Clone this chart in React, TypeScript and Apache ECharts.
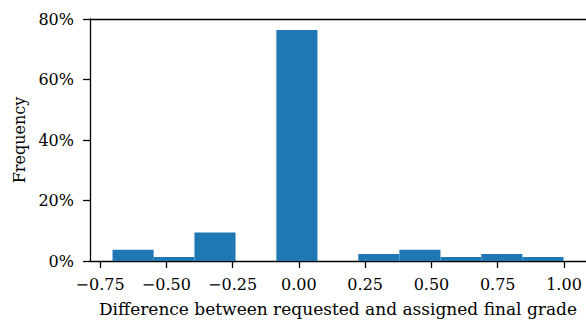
import React, { useEffect, useRef } from "react";
import * as echarts from "echarts";

const binEdges = [-0.703, -0.548, -0.394, -0.239, -0.085, 0.07, 0.224, 0.379, 0.534, 0.688, 0.843, 0.998];
const frequencies = [3.7, 1.3, 9.4, 0, 76.4, 0, 2.3, 3.7, 1.3, 2.3, 1.3];
const xTicks = [-0.75, -0.5, -0.25, 0, 0.25, 0.5, 0.75, 1.0];
const yTicks = [0, 20, 40, 60, 80];
const xLabel = "Difference between requested and assigned final grade";
const yLabel = "Frequency";

const FONT = "DejaVu Serif";

export default function App() {
  const ref = useRef<HTMLDivElement>(null);
  useEffect(() => {
    if (!ref.current) return;
    const chart = echarts.init(ref.current, null, { renderer: "svg" });
    const data = frequencies.map((v, i) => [binEdges[i], binEdges[i + 1], v]);
    const fmt = (v: number) => v.toFixed(2).replace("-", "\u2212");
    chart.setOption({
      animation: false,
      grid: { left: 90, right: 0, top: 19, bottom: 59, containLabel: false, outerBoundsMode: "none" },
      xAxis: [
        {
          type: "value",
          min: -0.788,
          max: 1.083,
          name: xLabel,
          nameLocation: "middle",
          nameGap: 39,
          nameMoveOverlap: false,
          nameTextStyle: { fontFamily: FONT, fontSize: 17, color: "#000" },
          axisLine: { show: true, onZero: false, lineStyle: { color: "#000", width: 1.3 } },
          axisTick: { show: true, length: 7, lineStyle: { color: "#000", width: 1.3 }, customValues: xTicks },
          axisLabel: {
            fontFamily: FONT,
            fontSize: 16,
            color: "#000",
            margin: 8,
            padding: [7, 0, 0, 0],
            customValues: xTicks,
            formatter: fmt,
          },
          splitLine: { show: false },
        },
        {
          type: "value",
          position: "top",
          min: -0.788,
          max: 1.083,
          axisLine: { show: true, onZero: false, lineStyle: { color: "#000", width: 1.3 } },
          axisTick: { show: false },
          axisLabel: { show: false },
          splitLine: { show: false },
        },
      ],
      yAxis: {
        type: "value",
        min: 0,
        max: 80,
        interval: 20,
        name: yLabel,
        nameLocation: "middle",
        nameGap: 63,
        nameMoveOverlap: false,
        nameTextStyle: { fontFamily: FONT, fontSize: 16, color: "#000" },
        axisLine: { show: true, onZero: false, lineStyle: { color: "#000", width: 1.3 } },
        axisTick: { show: true, length: 7, lineStyle: { color: "#000", width: 1.3 }, customValues: yTicks },
        axisLabel: { fontFamily: FONT, fontSize: 16, color: "#000", margin: 16, formatter: (v: number) => v + "%" },
        splitLine: { show: false },
      },
      series: [
        {
          type: "custom",
          xAxisIndex: 0,
          yAxisIndex: 0,
          data,
          encode: { x: [0, 1], y: 2 },
          renderItem: (params: any, api: any) => {
            const p0 = api.coord([api.value(0), api.value(2)]);
            const p1 = api.coord([api.value(1), 0]);
            return {
              type: "rect",
              shape: { x: p0[0], y: p0[1], width: p1[0] - p0[0], height: p1[1] - p0[1] },
              style: { fill: "#1f77b4" },
            };
          },
        },
      ],
    });
    return () => chart.dispose();
  }, []);
  return <div ref={ref} style={{ width: 586, height: 320, position: "absolute", left: 0, top: 0 }} />;
}
